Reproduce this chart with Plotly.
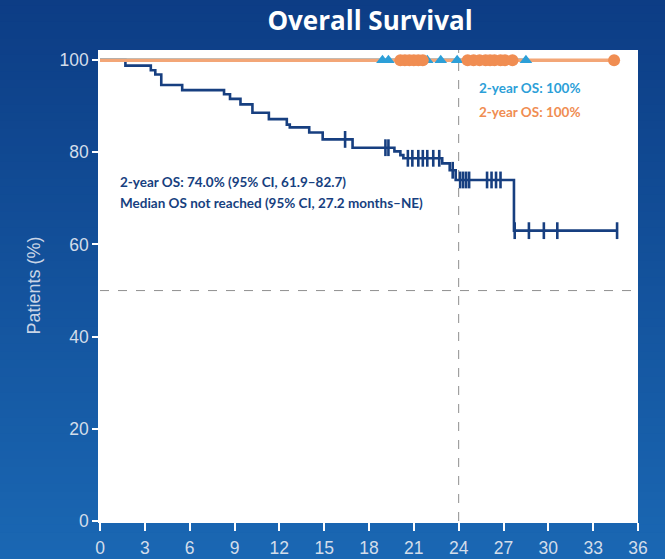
import numpy as np
import plotly.graph_objects as go

# Kaplan–Meier curve, overall population (months, % of patients alive)
km_time = [0, 1.7, 3.4, 3.7, 4.1, 5.5, 8.3, 8.7, 9.4, 10.2, 11.3, 12.5, 12.7,
           14.0, 14.9, 16.9, 19.7, 20.1, 20.3, 22.9, 23.4, 23.8, 27.7, 34.6]
km_surv = [100, 98.8, 97.8, 96.9, 94.6, 93.5, 92.6, 91.6, 90.4, 88.6, 87.2, 86.0, 85.4,
           84.3, 82.8, 81.0, 80.2, 79.4, 78.7, 77.6, 76.1, 74.0, 63.0, 63.0]
km_censor = [16.4, 19.1, 19.3, 20.6, 20.9, 21.3, 21.6, 21.9, 22.3, 22.7, 23.6,
             24.1, 24.3, 24.5, 24.7, 25.9, 26.2, 26.5, 26.8,
             27.75, 28.7, 29.7, 30.6, 34.6]

# Subgroup A (triangles): no events
a_time = [0, 28.5]
a_surv = [100, 100]
a_censor = [18.9, 19.3, 21.9, 22.8, 23.9, 28.5]

# Subgroup B (circles): no events
b_time = [0, 34.4]
b_surv = [100, 100]
b_censor = [20.1, 20.4, 20.7, 21.0, 21.3, 21.6, 24.6, 25.0, 25.4, 25.8,
            26.1, 26.4, 26.8, 27.1, 27.6, 34.4]

x_ticks = list(range(0, 37, 3))
y_ticks = list(range(0, 101, 20))

NAVY = "#173f80"
CYAN = "#2c9fd8"
ORANGE = "#f08d52"
ORANGE_LINE = "#f3a677"


def step_value(times, surv, t):
    idx = np.searchsorted(np.asarray(times), t, side="right") - 1
    return float(np.asarray(surv)[idx])


fig = go.Figure()

# reference lines: 24 months and 50 %
fig.add_trace(go.Scatter(x=[24, 24], y=[0, 102.2], mode="lines",
                         line=dict(color="#8f8f8f", width=1, dash="dash"),
                         hoverinfo="skip", showlegend=False))
fig.add_trace(go.Scatter(x=[0, 36], y=[50, 50], mode="lines",
                         line=dict(color="#8f8f8f", width=1, dash="dash"),
                         hoverinfo="skip", showlegend=False))

# overall curve
fig.add_trace(go.Scatter(x=km_time, y=km_surv, mode="lines", line_shape="hv",
                         line=dict(color=NAVY, width=2.6), showlegend=False))
fig.add_trace(go.Scatter(x=km_censor,
                         y=[step_value(km_time, km_surv, t) for t in km_censor],
                         mode="markers",
                         marker=dict(symbol="line-ns", size=12,
                                     line=dict(color=NAVY, width=2.6)),
                         showlegend=False))

# subgroup lines
fig.add_trace(go.Scatter(x=a_time, y=a_surv, mode="lines", line_shape="hv",
                         line=dict(color=CYAN, width=3.5), showlegend=False))
fig.add_trace(go.Scatter(x=b_time, y=b_surv, mode="lines", line_shape="hv",
                         line=dict(color=ORANGE_LINE, width=3.5), showlegend=False))
fig.add_trace(go.Scatter(x=a_censor,
                         y=[step_value(a_time, a_surv, t) for t in a_censor],
                         mode="markers",
                         marker=dict(symbol="triangle-up", size=11, color=CYAN,
                                     line=dict(width=0)),
                         showlegend=False))
fig.add_trace(go.Scatter(x=b_censor,
                         y=[step_value(b_time, b_surv, t) for t in b_censor],
                         mode="markers",
                         marker=dict(symbol="circle", size=12, color=ORANGE,
                                     line=dict(width=0)),
                         showlegend=False))

# background: vertical blue gradient behind everything, white plot panel on top
shapes = []
n_bands = 80
top = np.array([12, 58, 130])
bottom = np.array([28, 108, 184])
for i in range(n_bands):
    f = i / (n_bands - 1)
    r, g, b = (top + (bottom - top) * f).astype(int)
    y1 = 1.2 - (i / n_bands) * 1.4
    y0 = 1.2 - ((i + 1) / n_bands) * 1.4 - 0.002
    shapes.append(dict(type="rect", xref="paper", yref="paper",
                       x0=-0.3, x1=1.3, y0=y0, y1=y1, layer="below",
                       line=dict(width=0), fillcolor=f"rgb({r},{g},{b})"))
shapes.append(dict(type="rect", xref="paper", yref="paper",
                   x0=0, x1=1, y0=0, y1=1, layer="below",
                   line=dict(width=0), fillcolor="white"))

text_font = dict(family="Lato", size=13.5, weight=700)
annotations = [
    dict(x=25.2, y=93.9, xref="x", yref="y", xanchor="left", yanchor="middle",
         text="2-year OS: 100%", showarrow=False, font=dict(text_font, color=CYAN)),
    dict(x=25.2, y=88.7, xref="x", yref="y", xanchor="left", yanchor="middle",
         text="2-year OS: 100%", showarrow=False, font=dict(text_font, color=ORANGE)),
    dict(x=1.2, y=73.5, xref="x", yref="y", xanchor="left", yanchor="middle",
         text="2-year OS: 74.0% (95% CI, 61.9–82.7)", showarrow=False,
         font=dict(text_font, color=NAVY)),
    dict(x=1.2, y=68.9, xref="x", yref="y", xanchor="left", yanchor="middle",
         text="Median OS not reached (95% CI, 27.2 months–NE)", showarrow=False,
         font=dict(text_font, color=NAVY)),
]

axis_font = dict(family="Liberation Sans", size=17.5, color="#d3ddea")
fig.update_layout(
    width=665, height=559,
    margin=dict(l=100, r=27, t=50, b=38),
    paper_bgcolor="#164f9c",
    plot_bgcolor="white",
    shapes=shapes,
    annotations=annotations,
    title=dict(text="Overall Survival", x=0.502, xref="paper", y=0.963, yref="container",
               xanchor="center", yanchor="middle",
               font=dict(family="Open Sans", size=26, weight=700, color="white")),
    xaxis=dict(range=[0, 36], tickvals=x_ticks, ticks="outside", ticklen=8,
               tickcolor="white", tickwidth=1.5, showline=True, linecolor="white",
               linewidth=1.5, showgrid=False, zeroline=False, automargin=False,
               ticklabelstandoff=2,
               tickfont=axis_font),
    yaxis=dict(range=[0, 102.2], tickvals=y_ticks, ticks="outside", ticklen=6,
               tickcolor="white", tickwidth=1.5, showline=True, linecolor="white",
               linewidth=1.5, showgrid=False, zeroline=False, automargin=False,
               tickfont=axis_font,
               title=dict(text="Patients (%)", standoff=14,
                          font=dict(family="Liberation Sans", size=18, color="#c9d5e6"))),
)

fig.write_html("out.html")
